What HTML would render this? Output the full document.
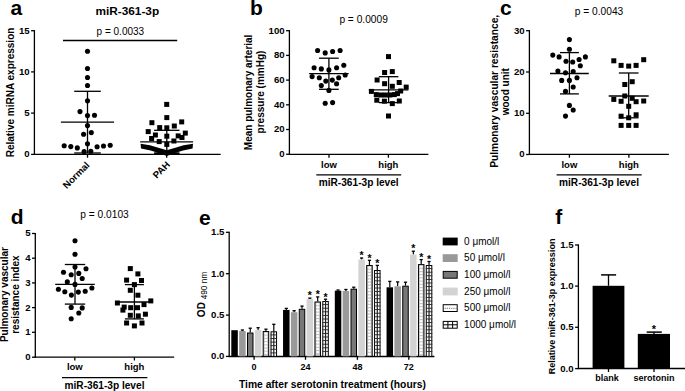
<!DOCTYPE html>
<html><head><meta charset="utf-8"><style>
html,body{margin:0;padding:0;background:#fff;width:685px;height:391px;overflow:hidden}
svg{display:block}
text{font-family:"Liberation Sans",sans-serif}
</style></head><body>
<svg width="685" height="391" viewBox="0 0 685 391">
<defs>
<pattern id="dots" width="3" height="3" patternUnits="userSpaceOnUse">
<rect width="3" height="3" fill="#fff"/><rect x="1" y="1" width="1" height="1" fill="#555"/></pattern>
<pattern id="grid" width="3" height="3.6" patternUnits="userSpaceOnUse">
<rect width="3" height="3.6" fill="#fff"/><rect x="0" y="0" width="3" height="1" fill="#222"/><rect x="0" y="0" width="1" height="3.6" fill="#222"/></pattern>
</defs>
<rect width="685" height="391" fill="#fff"/>
<text x="10.60" y="14.70" font-size="21" font-weight="bold" text-anchor="start" fill="#000">a</text>
<text x="250.10" y="14.70" font-size="21" font-weight="bold" text-anchor="start" fill="#000">b</text>
<text x="500.10" y="15.10" font-size="21" font-weight="bold" text-anchor="start" fill="#000">c</text>
<text x="10.80" y="224.30" font-size="21" font-weight="bold" text-anchor="start" fill="#000">d</text>
<text x="199.00" y="224.70" font-size="21" font-weight="bold" text-anchor="start" fill="#000">e</text>
<text x="555.20" y="224.20" font-size="21" font-weight="bold" text-anchor="start" fill="#000">f</text>
<text x="127.30" y="14.70" font-size="11.8" font-weight="bold" text-anchor="middle" fill="#000">miR-361-3p</text>
<text x="96.60" y="35.10" font-size="10.0" font-weight="normal" text-anchor="start" fill="#000">p = 0.0033</text>
<line x1="63.00" y1="40.50" x2="177.20" y2="40.50" stroke="#000" stroke-width="1.3"/>
<line x1="34.40" y1="30.10" x2="34.40" y2="155.00" stroke="#000" stroke-width="1.3"/>
<line x1="31.10" y1="30.70" x2="34.40" y2="30.70" stroke="#000" stroke-width="1.3"/>
<text x="29.60" y="33.60" font-size="9.6" font-weight="bold" text-anchor="end" fill="#000">15</text>
<line x1="31.10" y1="71.90" x2="34.40" y2="71.90" stroke="#000" stroke-width="1.3"/>
<text x="29.60" y="74.80" font-size="9.6" font-weight="bold" text-anchor="end" fill="#000">10</text>
<line x1="31.10" y1="113.10" x2="34.40" y2="113.10" stroke="#000" stroke-width="1.3"/>
<text x="29.60" y="116.00" font-size="9.6" font-weight="bold" text-anchor="end" fill="#000">5</text>
<line x1="31.10" y1="154.40" x2="34.40" y2="154.40" stroke="#000" stroke-width="1.3"/>
<text x="29.60" y="157.30" font-size="9.6" font-weight="bold" text-anchor="end" fill="#000">0</text>
<line x1="33.80" y1="154.40" x2="220.70" y2="154.40" stroke="#000" stroke-width="1.3"/>
<line x1="87.50" y1="154.40" x2="87.50" y2="157.70" stroke="#000" stroke-width="1.3"/>
<line x1="166.70" y1="154.40" x2="166.70" y2="157.70" stroke="#000" stroke-width="1.3"/>
<text x="13.80" y="92.50" font-size="10" font-weight="bold" text-anchor="middle" fill="#000" transform="rotate(-90 13.80 92.50)">Relative miRNA expression</text>
<text x="90.20" y="165.80" font-size="9.6" font-weight="bold" text-anchor="end" fill="#000" transform="rotate(-45 90.20 165.80)">Normal</text>
<text x="170.60" y="165.30" font-size="9.6" font-weight="bold" text-anchor="end" fill="#000" transform="rotate(-45 170.60 165.30)">PAH</text>
<circle cx="87.50" cy="51.20" r="2.55"/>
<circle cx="87.50" cy="68.50" r="2.55"/>
<circle cx="87.50" cy="77.50" r="2.55"/>
<circle cx="87.50" cy="85.50" r="2.55"/>
<circle cx="87.50" cy="100.70" r="2.55"/>
<circle cx="80.00" cy="111.60" r="2.55"/>
<circle cx="87.50" cy="115.60" r="2.55"/>
<circle cx="94.50" cy="115.20" r="2.55"/>
<circle cx="87.50" cy="125.60" r="2.55"/>
<circle cx="83.60" cy="134.30" r="2.55"/>
<circle cx="91.30" cy="132.60" r="2.55"/>
<circle cx="87.50" cy="143.80" r="2.55"/>
<circle cx="64.20" cy="145.80" r="2.55"/>
<circle cx="70.80" cy="146.60" r="2.55"/>
<circle cx="77.30" cy="147.90" r="2.55"/>
<circle cx="97.10" cy="146.70" r="2.55"/>
<circle cx="103.50" cy="146.00" r="2.55"/>
<circle cx="110.20" cy="145.30" r="2.55"/>
<circle cx="84.10" cy="151.50" r="2.55"/>
<circle cx="90.80" cy="151.30" r="2.55"/>
<line x1="60.90" y1="122.20" x2="114.10" y2="122.20" stroke="#000" stroke-width="1.3"/>
<line x1="74.20" y1="91.30" x2="100.80" y2="91.30" stroke="#000" stroke-width="1.3"/>
<line x1="74.20" y1="153.00" x2="100.80" y2="153.00" stroke="#000" stroke-width="1.3"/>
<line x1="87.50" y1="91.30" x2="87.50" y2="153.00" stroke="#000" stroke-width="1.3"/>
<line x1="140.20" y1="141.90" x2="193.10" y2="141.90" stroke="#000" stroke-width="1.3"/>
<line x1="154.10" y1="130.30" x2="179.50" y2="130.30" stroke="#000" stroke-width="1.3"/>
<line x1="154.10" y1="153.20" x2="179.50" y2="153.20" stroke="#000" stroke-width="1.8"/>
<line x1="166.80" y1="130.30" x2="166.80" y2="153.00" stroke="#000" stroke-width="1.3"/>
<rect x="164.20" y="101.90" width="5.0" height="5.0"/>
<rect x="164.30" y="115.10" width="5.0" height="5.0"/>
<rect x="149.40" y="120.20" width="5.0" height="5.0"/>
<rect x="179.20" y="119.40" width="5.0" height="5.0"/>
<rect x="157.20" y="125.10" width="5.0" height="5.0"/>
<rect x="164.30" y="125.30" width="5.0" height="5.0"/>
<rect x="171.80" y="123.50" width="5.0" height="5.0"/>
<rect x="145.70" y="129.10" width="5.0" height="5.0"/>
<rect x="152.90" y="132.50" width="5.0" height="5.0"/>
<rect x="164.30" y="133.70" width="5.0" height="5.0"/>
<rect x="175.70" y="133.40" width="5.0" height="5.0"/>
<rect x="182.80" y="130.60" width="5.0" height="5.0"/>
<rect x="179.50" y="135.00" width="5.0" height="5.0"/>
<rect x="149.10" y="136.00" width="5.0" height="5.0"/>
<rect x="156.70" y="139.10" width="5.0" height="5.0"/>
<rect x="171.40" y="138.50" width="5.0" height="5.0"/>
<rect x="164.30" y="141.90" width="5.0" height="5.0"/>
<path d="M140.6,143.7 L150,145.3 L160,148.3 L166.8,150.3 L173.6,148.3 L183.6,145.3 L193,143.7 L192.6,148.4 L183,150.6 L173.5,153.4 L166.8,156 L160.1,153.4 L150.6,150.6 L141,148.4 Z"/>
<text x="363.60" y="22.80" font-size="10.2" font-weight="normal" text-anchor="middle" fill="#000">p = 0.0009</text>
<line x1="289.40" y1="30.10" x2="289.40" y2="154.90" stroke="#000" stroke-width="1.3"/>
<line x1="286.10" y1="30.70" x2="289.40" y2="30.70" stroke="#000" stroke-width="1.3"/>
<text x="284.60" y="33.60" font-size="9.6" font-weight="bold" text-anchor="end" fill="#000">100</text>
<line x1="286.10" y1="55.40" x2="289.40" y2="55.40" stroke="#000" stroke-width="1.3"/>
<text x="284.60" y="58.30" font-size="9.6" font-weight="bold" text-anchor="end" fill="#000">80</text>
<line x1="286.10" y1="80.10" x2="289.40" y2="80.10" stroke="#000" stroke-width="1.3"/>
<text x="284.60" y="83.00" font-size="9.6" font-weight="bold" text-anchor="end" fill="#000">60</text>
<line x1="286.10" y1="104.80" x2="289.40" y2="104.80" stroke="#000" stroke-width="1.3"/>
<text x="284.60" y="107.70" font-size="9.6" font-weight="bold" text-anchor="end" fill="#000">40</text>
<line x1="286.10" y1="129.50" x2="289.40" y2="129.50" stroke="#000" stroke-width="1.3"/>
<text x="284.60" y="132.40" font-size="9.6" font-weight="bold" text-anchor="end" fill="#000">20</text>
<line x1="286.10" y1="154.30" x2="289.40" y2="154.30" stroke="#000" stroke-width="1.3"/>
<text x="284.60" y="157.20" font-size="9.6" font-weight="bold" text-anchor="end" fill="#000">0</text>
<line x1="288.80" y1="154.40" x2="428.40" y2="154.40" stroke="#000" stroke-width="1.3"/>
<line x1="329.00" y1="154.40" x2="329.00" y2="157.70" stroke="#000" stroke-width="1.3"/>
<line x1="388.40" y1="154.40" x2="388.40" y2="157.70" stroke="#000" stroke-width="1.3"/>
<text x="329.00" y="167.90" font-size="9.5" font-weight="bold" text-anchor="middle" fill="#000">low</text>
<text x="388.40" y="167.90" font-size="9.5" font-weight="bold" text-anchor="middle" fill="#000">high</text>
<line x1="316.30" y1="174.80" x2="401.20" y2="174.80" stroke="#000" stroke-width="1.3"/>
<text x="358.70" y="185.60" font-size="10.15" font-weight="bold" text-anchor="middle" fill="#000">miR-361-3p level</text>
<text x="252.30" y="92.40" font-size="10" font-weight="bold" text-anchor="middle" fill="#000" transform="rotate(-90 252.30 92.40)">Mean pulmonary arterial</text>
<text x="263.80" y="92.00" font-size="10" font-weight="bold" text-anchor="middle" fill="#000" transform="rotate(-90 263.80 92.00)">pressure (mmHg)</text>
<circle cx="317.60" cy="50.50" r="2.55"/>
<circle cx="325.20" cy="52.90" r="2.55"/>
<circle cx="332.60" cy="51.50" r="2.55"/>
<circle cx="340.10" cy="50.50" r="2.55"/>
<circle cx="314.10" cy="67.80" r="2.55"/>
<circle cx="321.30" cy="68.90" r="2.55"/>
<circle cx="328.90" cy="69.90" r="2.55"/>
<circle cx="336.60" cy="67.80" r="2.55"/>
<circle cx="343.80" cy="65.20" r="2.55"/>
<circle cx="312.10" cy="76.60" r="2.55"/>
<circle cx="319.30" cy="77.70" r="2.55"/>
<circle cx="345.20" cy="75.00" r="2.55"/>
<circle cx="338.70" cy="77.70" r="2.55"/>
<circle cx="325.80" cy="81.10" r="2.55"/>
<circle cx="332.30" cy="80.10" r="2.55"/>
<circle cx="321.30" cy="85.60" r="2.55"/>
<circle cx="336.60" cy="83.80" r="2.55"/>
<circle cx="328.90" cy="90.40" r="2.55"/>
<circle cx="325.20" cy="103.20" r="2.55"/>
<circle cx="332.60" cy="102.60" r="2.55"/>
<line x1="309.15" y1="73.60" x2="348.65" y2="73.60" stroke="#000" stroke-width="1.3"/>
<line x1="319.05" y1="58.20" x2="338.75" y2="58.20" stroke="#000" stroke-width="1.3"/>
<line x1="319.05" y1="89.30" x2="338.75" y2="89.30" stroke="#000" stroke-width="1.3"/>
<line x1="328.90" y1="58.20" x2="328.90" y2="89.30" stroke="#000" stroke-width="1.3"/>
<line x1="368.85" y1="89.80" x2="408.35" y2="89.80" stroke="#000" stroke-width="1.3"/>
<line x1="378.80" y1="76.70" x2="398.40" y2="76.70" stroke="#000" stroke-width="1.3"/>
<line x1="378.80" y1="102.60" x2="398.40" y2="102.60" stroke="#000" stroke-width="1.3"/>
<line x1="388.60" y1="76.70" x2="388.60" y2="102.60" stroke="#000" stroke-width="1.3"/>
<rect x="386.00" y="54.10" width="5.0" height="5.0"/>
<rect x="382.10" y="70.00" width="5.0" height="5.0"/>
<rect x="389.80" y="69.10" width="5.0" height="5.0"/>
<rect x="374.60" y="77.50" width="5.0" height="5.0"/>
<rect x="382.10" y="81.20" width="5.0" height="5.0"/>
<rect x="396.70" y="80.00" width="5.0" height="5.0"/>
<rect x="389.80" y="83.80" width="5.0" height="5.0"/>
<rect x="403.70" y="84.60" width="5.0" height="5.0"/>
<rect x="368.90" y="88.90" width="5.0" height="5.0"/>
<rect x="373.80" y="92.10" width="5.0" height="5.0"/>
<rect x="378.30" y="92.50" width="5.0" height="5.0"/>
<rect x="382.80" y="92.50" width="5.0" height="5.0"/>
<rect x="387.30" y="92.50" width="5.0" height="5.0"/>
<rect x="391.80" y="92.10" width="5.0" height="5.0"/>
<rect x="395.00" y="91.10" width="5.0" height="5.0"/>
<rect x="398.20" y="88.50" width="5.0" height="5.0"/>
<rect x="374.30" y="97.70" width="5.0" height="5.0"/>
<rect x="381.90" y="98.70" width="5.0" height="5.0"/>
<rect x="389.80" y="101.10" width="5.0" height="5.0"/>
<rect x="396.80" y="98.50" width="5.0" height="5.0"/>
<rect x="386.00" y="113.50" width="5.0" height="5.0"/>
<text x="599.00" y="14.80" font-size="10.2" font-weight="normal" text-anchor="middle" fill="#000">p = 0.0043</text>
<line x1="529.40" y1="30.10" x2="529.40" y2="155.00" stroke="#000" stroke-width="1.3"/>
<line x1="526.10" y1="30.70" x2="529.40" y2="30.70" stroke="#000" stroke-width="1.3"/>
<text x="524.60" y="33.60" font-size="9.6" font-weight="bold" text-anchor="end" fill="#000">30</text>
<line x1="526.10" y1="72.00" x2="529.40" y2="72.00" stroke="#000" stroke-width="1.3"/>
<text x="524.60" y="74.90" font-size="9.6" font-weight="bold" text-anchor="end" fill="#000">20</text>
<line x1="526.10" y1="113.30" x2="529.40" y2="113.30" stroke="#000" stroke-width="1.3"/>
<text x="524.60" y="116.20" font-size="9.6" font-weight="bold" text-anchor="end" fill="#000">10</text>
<line x1="526.10" y1="154.50" x2="529.40" y2="154.50" stroke="#000" stroke-width="1.3"/>
<text x="524.60" y="157.40" font-size="9.6" font-weight="bold" text-anchor="end" fill="#000">0</text>
<line x1="528.80" y1="154.40" x2="668.90" y2="154.40" stroke="#000" stroke-width="1.3"/>
<line x1="569.40" y1="154.40" x2="569.40" y2="157.70" stroke="#000" stroke-width="1.3"/>
<line x1="628.90" y1="154.40" x2="628.90" y2="157.70" stroke="#000" stroke-width="1.3"/>
<text x="569.40" y="167.70" font-size="9.5" font-weight="bold" text-anchor="middle" fill="#000">low</text>
<text x="628.90" y="167.70" font-size="9.5" font-weight="bold" text-anchor="middle" fill="#000">high</text>
<line x1="556.60" y1="174.90" x2="641.70" y2="174.90" stroke="#000" stroke-width="1.3"/>
<text x="599.00" y="185.80" font-size="10.15" font-weight="bold" text-anchor="middle" fill="#000">miR-361-3p level</text>
<text x="497.60" y="91.30" font-size="10.2" font-weight="bold" text-anchor="middle" fill="#000" transform="rotate(-90 497.60 91.30)">Pulmonary vascular resistance,</text>
<text x="508.80" y="91.70" font-size="10" font-weight="bold" text-anchor="middle" fill="#000" transform="rotate(-90 508.80 91.70)">wood unit</text>
<circle cx="569.40" cy="39.60" r="2.55"/>
<circle cx="569.40" cy="49.30" r="2.55"/>
<circle cx="552.80" cy="55.10" r="2.55"/>
<circle cx="559.10" cy="56.90" r="2.55"/>
<circle cx="566.00" cy="61.30" r="2.55"/>
<circle cx="572.70" cy="62.00" r="2.55"/>
<circle cx="579.10" cy="59.50" r="2.55"/>
<circle cx="585.40" cy="56.90" r="2.55"/>
<circle cx="580.30" cy="65.80" r="2.55"/>
<circle cx="557.90" cy="71.00" r="2.55"/>
<circle cx="565.50" cy="72.70" r="2.55"/>
<circle cx="573.20" cy="71.50" r="2.55"/>
<circle cx="561.70" cy="80.40" r="2.55"/>
<circle cx="569.40" cy="80.40" r="2.55"/>
<circle cx="577.00" cy="77.80" r="2.55"/>
<circle cx="573.20" cy="87.00" r="2.55"/>
<circle cx="565.50" cy="91.40" r="2.55"/>
<circle cx="569.40" cy="105.40" r="2.55"/>
<circle cx="573.20" cy="110.00" r="2.55"/>
<circle cx="565.50" cy="116.10" r="2.55"/>
<line x1="550.00" y1="73.50" x2="588.80" y2="73.50" stroke="#000" stroke-width="1.3"/>
<line x1="559.95" y1="52.60" x2="578.85" y2="52.60" stroke="#000" stroke-width="1.3"/>
<line x1="559.95" y1="93.90" x2="578.85" y2="93.90" stroke="#000" stroke-width="1.3"/>
<line x1="569.40" y1="52.60" x2="569.40" y2="93.90" stroke="#000" stroke-width="1.3"/>
<line x1="608.70" y1="96.00" x2="648.70" y2="96.00" stroke="#000" stroke-width="1.3"/>
<line x1="618.85" y1="73.00" x2="638.55" y2="73.00" stroke="#000" stroke-width="1.3"/>
<line x1="618.85" y1="117.80" x2="638.55" y2="117.80" stroke="#000" stroke-width="1.3"/>
<line x1="628.70" y1="73.00" x2="628.70" y2="117.80" stroke="#000" stroke-width="1.3"/>
<rect x="611.30" y="58.30" width="5.0" height="5.0"/>
<rect x="618.60" y="62.90" width="5.0" height="5.0"/>
<rect x="626.20" y="63.60" width="5.0" height="5.0"/>
<rect x="633.60" y="62.90" width="5.0" height="5.0"/>
<rect x="641.20" y="57.20" width="5.0" height="5.0"/>
<rect x="622.30" y="82.00" width="5.0" height="5.0"/>
<rect x="629.70" y="79.20" width="5.0" height="5.0"/>
<rect x="622.30" y="93.50" width="5.0" height="5.0"/>
<rect x="629.70" y="95.80" width="5.0" height="5.0"/>
<rect x="611.30" y="96.90" width="5.0" height="5.0"/>
<rect x="618.60" y="98.80" width="5.0" height="5.0"/>
<rect x="633.60" y="99.20" width="5.0" height="5.0"/>
<rect x="641.20" y="98.50" width="5.0" height="5.0"/>
<rect x="626.20" y="103.80" width="5.0" height="5.0"/>
<rect x="618.60" y="113.70" width="5.0" height="5.0"/>
<rect x="626.20" y="115.30" width="5.0" height="5.0"/>
<rect x="633.60" y="112.30" width="5.0" height="5.0"/>
<rect x="618.60" y="122.90" width="5.0" height="5.0"/>
<rect x="626.20" y="122.90" width="5.0" height="5.0"/>
<rect x="633.60" y="122.90" width="5.0" height="5.0"/>
<text x="104.50" y="217.50" font-size="10.2" font-weight="normal" text-anchor="middle" fill="#000">p = 0.0103</text>
<line x1="35.30" y1="232.90" x2="35.30" y2="357.80" stroke="#000" stroke-width="1.3"/>
<line x1="32.00" y1="233.50" x2="35.30" y2="233.50" stroke="#000" stroke-width="1.3"/>
<text x="30.50" y="236.40" font-size="9.6" font-weight="bold" text-anchor="end" fill="#000">5</text>
<line x1="32.00" y1="258.20" x2="35.30" y2="258.20" stroke="#000" stroke-width="1.3"/>
<text x="30.50" y="261.10" font-size="9.6" font-weight="bold" text-anchor="end" fill="#000">4</text>
<line x1="32.00" y1="282.90" x2="35.30" y2="282.90" stroke="#000" stroke-width="1.3"/>
<text x="30.50" y="285.80" font-size="9.6" font-weight="bold" text-anchor="end" fill="#000">3</text>
<line x1="32.00" y1="307.60" x2="35.30" y2="307.60" stroke="#000" stroke-width="1.3"/>
<text x="30.50" y="310.50" font-size="9.6" font-weight="bold" text-anchor="end" fill="#000">2</text>
<line x1="32.00" y1="332.30" x2="35.30" y2="332.30" stroke="#000" stroke-width="1.3"/>
<text x="30.50" y="335.20" font-size="9.6" font-weight="bold" text-anchor="end" fill="#000">1</text>
<line x1="32.00" y1="357.20" x2="35.30" y2="357.20" stroke="#000" stroke-width="1.3"/>
<text x="30.50" y="360.10" font-size="9.6" font-weight="bold" text-anchor="end" fill="#000">0</text>
<line x1="34.70" y1="357.20" x2="174.20" y2="357.20" stroke="#000" stroke-width="1.3"/>
<line x1="74.80" y1="357.20" x2="74.80" y2="360.50" stroke="#000" stroke-width="1.3"/>
<line x1="134.40" y1="357.20" x2="134.40" y2="360.50" stroke="#000" stroke-width="1.3"/>
<text x="74.80" y="370.20" font-size="9.5" font-weight="bold" text-anchor="middle" fill="#000">low</text>
<text x="134.40" y="370.20" font-size="9.5" font-weight="bold" text-anchor="middle" fill="#000">high</text>
<line x1="62.00" y1="377.60" x2="147.40" y2="377.60" stroke="#000" stroke-width="1.3"/>
<text x="104.50" y="388.60" font-size="10.15" font-weight="bold" text-anchor="middle" fill="#000">miR-361-3p level</text>
<text x="7.80" y="294.60" font-size="10" font-weight="bold" text-anchor="middle" fill="#000" transform="rotate(-90 7.80 294.60)">Pulmonary vascular</text>
<text x="19.40" y="294.60" font-size="10" font-weight="bold" text-anchor="middle" fill="#000" transform="rotate(-90 19.40 294.60)">resistance index</text>
<circle cx="75.00" cy="240.70" r="2.55"/>
<circle cx="75.00" cy="254.30" r="2.55"/>
<circle cx="75.00" cy="267.00" r="2.55"/>
<circle cx="86.00" cy="268.80" r="2.55"/>
<circle cx="63.50" cy="272.20" r="2.55"/>
<circle cx="71.20" cy="274.70" r="2.55"/>
<circle cx="78.80" cy="273.40" r="2.55"/>
<circle cx="82.20" cy="278.50" r="2.55"/>
<circle cx="67.30" cy="281.90" r="2.55"/>
<circle cx="75.00" cy="284.40" r="2.55"/>
<circle cx="58.40" cy="289.30" r="2.55"/>
<circle cx="64.80" cy="291.80" r="2.55"/>
<circle cx="71.40" cy="295.10" r="2.55"/>
<circle cx="78.30" cy="292.10" r="2.55"/>
<circle cx="85.20" cy="291.30" r="2.55"/>
<circle cx="91.90" cy="288.00" r="2.55"/>
<circle cx="71.20" cy="307.40" r="2.55"/>
<circle cx="82.20" cy="307.90" r="2.55"/>
<circle cx="78.80" cy="313.00" r="2.55"/>
<circle cx="71.20" cy="318.70" r="2.55"/>
<line x1="55.20" y1="284.40" x2="94.80" y2="284.40" stroke="#000" stroke-width="1.3"/>
<line x1="64.80" y1="264.50" x2="85.20" y2="264.50" stroke="#000" stroke-width="1.3"/>
<line x1="64.80" y1="304.10" x2="85.20" y2="304.10" stroke="#000" stroke-width="1.3"/>
<line x1="75.00" y1="264.50" x2="75.00" y2="304.10" stroke="#000" stroke-width="1.3"/>
<line x1="115.80" y1="302.00" x2="153.00" y2="302.00" stroke="#000" stroke-width="1.3"/>
<line x1="124.90" y1="284.60" x2="143.90" y2="284.60" stroke="#000" stroke-width="1.3"/>
<line x1="124.90" y1="318.90" x2="143.90" y2="318.90" stroke="#000" stroke-width="1.3"/>
<line x1="134.40" y1="284.60" x2="134.40" y2="318.90" stroke="#000" stroke-width="1.3"/>
<rect x="127.80" y="266.10" width="5.0" height="5.0"/>
<rect x="135.40" y="271.40" width="5.0" height="5.0"/>
<rect x="124.10" y="277.60" width="5.0" height="5.0"/>
<rect x="139.00" y="278.00" width="5.0" height="5.0"/>
<rect x="131.90" y="282.10" width="5.0" height="5.0"/>
<rect x="127.80" y="287.80" width="5.0" height="5.0"/>
<rect x="135.40" y="292.70" width="5.0" height="5.0"/>
<rect x="114.90" y="300.50" width="5.0" height="5.0"/>
<rect x="148.30" y="298.40" width="5.0" height="5.0"/>
<rect x="141.50" y="302.10" width="5.0" height="5.0"/>
<rect x="121.70" y="304.60" width="5.0" height="5.0"/>
<rect x="120.40" y="307.60" width="5.0" height="5.0"/>
<rect x="128.20" y="305.20" width="5.0" height="5.0"/>
<rect x="135.00" y="305.20" width="5.0" height="5.0"/>
<rect x="127.80" y="312.80" width="5.0" height="5.0"/>
<rect x="135.80" y="313.40" width="5.0" height="5.0"/>
<rect x="142.90" y="311.70" width="5.0" height="5.0"/>
<rect x="124.10" y="320.50" width="5.0" height="5.0"/>
<rect x="131.90" y="323.40" width="5.0" height="5.0"/>
<rect x="139.50" y="320.50" width="5.0" height="5.0"/>
<line x1="229.20" y1="231.70" x2="229.20" y2="357.10" stroke="#000" stroke-width="1.3"/>
<line x1="225.90" y1="232.30" x2="229.20" y2="232.30" stroke="#000" stroke-width="1.3"/>
<text x="224.40" y="235.20" font-size="9.6" font-weight="bold" text-anchor="end" fill="#000">1.5</text>
<line x1="225.90" y1="273.70" x2="229.20" y2="273.70" stroke="#000" stroke-width="1.3"/>
<text x="224.40" y="276.60" font-size="9.6" font-weight="bold" text-anchor="end" fill="#000">1.0</text>
<line x1="225.90" y1="315.10" x2="229.20" y2="315.10" stroke="#000" stroke-width="1.3"/>
<text x="224.40" y="318.00" font-size="9.6" font-weight="bold" text-anchor="end" fill="#000">0.5</text>
<line x1="225.90" y1="356.40" x2="229.20" y2="356.40" stroke="#000" stroke-width="1.3"/>
<text x="224.40" y="359.30" font-size="9.6" font-weight="bold" text-anchor="end" fill="#000">0.0</text>
<line x1="228.60" y1="356.50" x2="434.40" y2="356.50" stroke="#000" stroke-width="1.3"/>
<line x1="254.10" y1="356.50" x2="254.10" y2="359.80" stroke="#000" stroke-width="1.3"/>
<line x1="305.50" y1="356.50" x2="305.50" y2="359.80" stroke="#000" stroke-width="1.3"/>
<line x1="357.40" y1="356.50" x2="357.40" y2="359.80" stroke="#000" stroke-width="1.3"/>
<line x1="408.80" y1="356.50" x2="408.80" y2="359.80" stroke="#000" stroke-width="1.3"/>
<text x="254.10" y="369.60" font-size="9" font-weight="bold" text-anchor="middle" fill="#000">0</text>
<text x="305.50" y="369.60" font-size="9" font-weight="bold" text-anchor="middle" fill="#000">24</text>
<text x="357.40" y="369.60" font-size="9" font-weight="bold" text-anchor="middle" fill="#000">48</text>
<text x="408.80" y="369.60" font-size="9" font-weight="bold" text-anchor="middle" fill="#000">72</text>
<text x="332.40" y="387.70" font-size="10.3" font-weight="bold" text-anchor="middle" fill="#000">Time after serotonin treatment (hours)</text>
<text x="205.3" y="294.4" font-size="10" font-weight="bold" text-anchor="middle" transform="rotate(-90 205.3 294.4)">OD <tspan font-size="8.3" font-weight="normal" dy="1.5">490 nm</tspan></text>
<rect x="231.30" y="330.20" width="6.50" height="26.20" fill="#000"/>
<line x1="242.40" y1="331.00" x2="242.40" y2="330.00" stroke="#000" stroke-width="1.2"/>
<line x1="240.80" y1="330.00" x2="244.00" y2="330.00" stroke="#000" stroke-width="1.3"/>
<rect x="239.15" y="331.00" width="6.50" height="25.40" fill="#999"/>
<line x1="250.25" y1="332.50" x2="250.25" y2="328.20" stroke="#000" stroke-width="1.2"/>
<line x1="248.65" y1="328.20" x2="251.85" y2="328.20" stroke="#000" stroke-width="1.3"/>
<rect x="247.50" y="333.00" width="5.50" height="23.40" fill="#777" stroke="#000" stroke-width="1"/>
<line x1="258.10" y1="329.90" x2="258.10" y2="327.70" stroke="#000" stroke-width="1.2"/>
<line x1="256.50" y1="327.70" x2="259.70" y2="327.70" stroke="#000" stroke-width="1.3"/>
<rect x="254.85" y="329.90" width="6.50" height="26.50" fill="#d3d3d3"/>
<line x1="265.95" y1="331.00" x2="265.95" y2="329.20" stroke="#000" stroke-width="1.2"/>
<line x1="264.35" y1="329.20" x2="267.55" y2="329.20" stroke="#000" stroke-width="1.3"/>
<rect x="263.20" y="331.50" width="5.50" height="24.90" fill="#c4c4c4" stroke="#000" stroke-width="1"/>
<ellipse cx="265.95" cy="333.60" rx="1.5" ry="1.2" fill="#fff"/>
<ellipse cx="265.95" cy="336.80" rx="1.5" ry="1.2" fill="#fff"/>
<ellipse cx="265.95" cy="340.00" rx="1.5" ry="1.2" fill="#fff"/>
<ellipse cx="265.95" cy="343.20" rx="1.5" ry="1.2" fill="#fff"/>
<ellipse cx="265.95" cy="346.40" rx="1.5" ry="1.2" fill="#fff"/>
<ellipse cx="265.95" cy="349.60" rx="1.5" ry="1.2" fill="#fff"/>
<ellipse cx="265.95" cy="352.80" rx="1.5" ry="1.2" fill="#fff"/>
<line x1="273.80" y1="331.30" x2="273.80" y2="324.30" stroke="#000" stroke-width="1.2"/>
<line x1="272.20" y1="324.30" x2="275.40" y2="324.30" stroke="#000" stroke-width="1.3"/>
<rect x="271.05" y="331.80" width="5.50" height="24.60" fill="#fff" stroke="#000" stroke-width="1"/>
<rect x="273.20" y="331.30" width="1.2" height="25.10" fill="#222"/>
<rect x="270.55" y="334.45" width="6.50" height="0.9" fill="#222"/>
<rect x="270.55" y="338.05" width="6.50" height="0.9" fill="#222"/>
<rect x="270.55" y="341.65" width="6.50" height="0.9" fill="#222"/>
<rect x="270.55" y="345.25" width="6.50" height="0.9" fill="#222"/>
<rect x="270.55" y="348.85" width="6.50" height="0.9" fill="#222"/>
<rect x="270.55" y="352.45" width="6.50" height="0.9" fill="#222"/>
<line x1="286.30" y1="309.90" x2="286.30" y2="308.40" stroke="#000" stroke-width="1.2"/>
<line x1="284.70" y1="308.40" x2="287.90" y2="308.40" stroke="#000" stroke-width="1.3"/>
<rect x="283.05" y="309.90" width="6.50" height="46.50" fill="#000"/>
<line x1="294.15" y1="312.20" x2="294.15" y2="310.70" stroke="#000" stroke-width="1.2"/>
<line x1="292.55" y1="310.70" x2="295.75" y2="310.70" stroke="#000" stroke-width="1.3"/>
<rect x="290.90" y="312.20" width="6.50" height="44.20" fill="#999"/>
<line x1="302.00" y1="308.80" x2="302.00" y2="306.10" stroke="#000" stroke-width="1.2"/>
<line x1="300.40" y1="306.10" x2="303.60" y2="306.10" stroke="#000" stroke-width="1.3"/>
<rect x="299.25" y="309.30" width="5.50" height="47.10" fill="#777" stroke="#000" stroke-width="1"/>
<line x1="309.85" y1="299.20" x2="309.85" y2="298.10" stroke="#000" stroke-width="1.2"/>
<line x1="308.25" y1="298.10" x2="311.45" y2="298.10" stroke="#000" stroke-width="1.3"/>
<rect x="306.60" y="299.20" width="6.50" height="57.20" fill="#d3d3d3"/>
<text x="309.85" y="298.90" font-size="10.5" font-weight="bold" text-anchor="middle" fill="#000">*</text>
<line x1="317.70" y1="301.50" x2="317.70" y2="296.90" stroke="#000" stroke-width="1.2"/>
<line x1="316.10" y1="296.90" x2="319.30" y2="296.90" stroke="#000" stroke-width="1.3"/>
<rect x="314.95" y="302.00" width="5.50" height="54.40" fill="#c4c4c4" stroke="#000" stroke-width="1"/>
<ellipse cx="317.70" cy="304.10" rx="1.5" ry="1.2" fill="#fff"/>
<ellipse cx="317.70" cy="307.30" rx="1.5" ry="1.2" fill="#fff"/>
<ellipse cx="317.70" cy="310.50" rx="1.5" ry="1.2" fill="#fff"/>
<ellipse cx="317.70" cy="313.70" rx="1.5" ry="1.2" fill="#fff"/>
<ellipse cx="317.70" cy="316.90" rx="1.5" ry="1.2" fill="#fff"/>
<ellipse cx="317.70" cy="320.10" rx="1.5" ry="1.2" fill="#fff"/>
<ellipse cx="317.70" cy="323.30" rx="1.5" ry="1.2" fill="#fff"/>
<ellipse cx="317.70" cy="326.50" rx="1.5" ry="1.2" fill="#fff"/>
<ellipse cx="317.70" cy="329.70" rx="1.5" ry="1.2" fill="#fff"/>
<ellipse cx="317.70" cy="332.90" rx="1.5" ry="1.2" fill="#fff"/>
<ellipse cx="317.70" cy="336.10" rx="1.5" ry="1.2" fill="#fff"/>
<ellipse cx="317.70" cy="339.30" rx="1.5" ry="1.2" fill="#fff"/>
<ellipse cx="317.70" cy="342.50" rx="1.5" ry="1.2" fill="#fff"/>
<ellipse cx="317.70" cy="345.70" rx="1.5" ry="1.2" fill="#fff"/>
<ellipse cx="317.70" cy="348.90" rx="1.5" ry="1.2" fill="#fff"/>
<ellipse cx="317.70" cy="352.10" rx="1.5" ry="1.2" fill="#fff"/>
<text x="317.70" y="298.20" font-size="10.5" font-weight="bold" text-anchor="middle" fill="#000">*</text>
<line x1="325.55" y1="301.00" x2="325.55" y2="299.20" stroke="#000" stroke-width="1.2"/>
<line x1="323.95" y1="299.20" x2="327.15" y2="299.20" stroke="#000" stroke-width="1.3"/>
<rect x="322.80" y="301.50" width="5.50" height="54.90" fill="#fff" stroke="#000" stroke-width="1"/>
<rect x="324.95" y="301.00" width="1.2" height="55.40" fill="#222"/>
<rect x="322.30" y="304.15" width="6.50" height="0.9" fill="#222"/>
<rect x="322.30" y="307.75" width="6.50" height="0.9" fill="#222"/>
<rect x="322.30" y="311.35" width="6.50" height="0.9" fill="#222"/>
<rect x="322.30" y="314.95" width="6.50" height="0.9" fill="#222"/>
<rect x="322.30" y="318.55" width="6.50" height="0.9" fill="#222"/>
<rect x="322.30" y="322.15" width="6.50" height="0.9" fill="#222"/>
<rect x="322.30" y="325.75" width="6.50" height="0.9" fill="#222"/>
<rect x="322.30" y="329.35" width="6.50" height="0.9" fill="#222"/>
<rect x="322.30" y="332.95" width="6.50" height="0.9" fill="#222"/>
<rect x="322.30" y="336.55" width="6.50" height="0.9" fill="#222"/>
<rect x="322.30" y="340.15" width="6.50" height="0.9" fill="#222"/>
<rect x="322.30" y="343.75" width="6.50" height="0.9" fill="#222"/>
<rect x="322.30" y="347.35" width="6.50" height="0.9" fill="#222"/>
<rect x="322.30" y="350.95" width="6.50" height="0.9" fill="#222"/>
<text x="325.55" y="300.90" font-size="10.5" font-weight="bold" text-anchor="middle" fill="#000">*</text>
<line x1="338.05" y1="290.70" x2="338.05" y2="290.00" stroke="#000" stroke-width="1.2"/>
<line x1="336.45" y1="290.00" x2="339.65" y2="290.00" stroke="#000" stroke-width="1.3"/>
<rect x="334.80" y="290.70" width="6.50" height="65.70" fill="#000"/>
<line x1="345.90" y1="291.00" x2="345.90" y2="289.50" stroke="#000" stroke-width="1.2"/>
<line x1="344.30" y1="289.50" x2="347.50" y2="289.50" stroke="#000" stroke-width="1.3"/>
<rect x="342.65" y="291.00" width="6.50" height="65.40" fill="#999"/>
<line x1="353.75" y1="288.70" x2="353.75" y2="287.20" stroke="#000" stroke-width="1.2"/>
<line x1="352.15" y1="287.20" x2="355.35" y2="287.20" stroke="#000" stroke-width="1.3"/>
<rect x="351.00" y="289.20" width="5.50" height="67.20" fill="#777" stroke="#000" stroke-width="1"/>
<line x1="361.60" y1="259.60" x2="361.60" y2="258.00" stroke="#000" stroke-width="1.2"/>
<line x1="360.00" y1="258.00" x2="363.20" y2="258.00" stroke="#000" stroke-width="1.3"/>
<rect x="358.35" y="259.60" width="6.50" height="96.80" fill="#d3d3d3"/>
<text x="361.60" y="258.60" font-size="10.5" font-weight="bold" text-anchor="middle" fill="#000">*</text>
<line x1="369.45" y1="265.00" x2="369.45" y2="260.30" stroke="#000" stroke-width="1.2"/>
<line x1="367.85" y1="260.30" x2="371.05" y2="260.30" stroke="#000" stroke-width="1.3"/>
<rect x="366.70" y="265.50" width="5.50" height="90.90" fill="#c4c4c4" stroke="#000" stroke-width="1"/>
<ellipse cx="369.45" cy="267.60" rx="1.5" ry="1.2" fill="#fff"/>
<ellipse cx="369.45" cy="270.80" rx="1.5" ry="1.2" fill="#fff"/>
<ellipse cx="369.45" cy="274.00" rx="1.5" ry="1.2" fill="#fff"/>
<ellipse cx="369.45" cy="277.20" rx="1.5" ry="1.2" fill="#fff"/>
<ellipse cx="369.45" cy="280.40" rx="1.5" ry="1.2" fill="#fff"/>
<ellipse cx="369.45" cy="283.60" rx="1.5" ry="1.2" fill="#fff"/>
<ellipse cx="369.45" cy="286.80" rx="1.5" ry="1.2" fill="#fff"/>
<ellipse cx="369.45" cy="290.00" rx="1.5" ry="1.2" fill="#fff"/>
<ellipse cx="369.45" cy="293.20" rx="1.5" ry="1.2" fill="#fff"/>
<ellipse cx="369.45" cy="296.40" rx="1.5" ry="1.2" fill="#fff"/>
<ellipse cx="369.45" cy="299.60" rx="1.5" ry="1.2" fill="#fff"/>
<ellipse cx="369.45" cy="302.80" rx="1.5" ry="1.2" fill="#fff"/>
<ellipse cx="369.45" cy="306.00" rx="1.5" ry="1.2" fill="#fff"/>
<ellipse cx="369.45" cy="309.20" rx="1.5" ry="1.2" fill="#fff"/>
<ellipse cx="369.45" cy="312.40" rx="1.5" ry="1.2" fill="#fff"/>
<ellipse cx="369.45" cy="315.60" rx="1.5" ry="1.2" fill="#fff"/>
<ellipse cx="369.45" cy="318.80" rx="1.5" ry="1.2" fill="#fff"/>
<ellipse cx="369.45" cy="322.00" rx="1.5" ry="1.2" fill="#fff"/>
<ellipse cx="369.45" cy="325.20" rx="1.5" ry="1.2" fill="#fff"/>
<ellipse cx="369.45" cy="328.40" rx="1.5" ry="1.2" fill="#fff"/>
<ellipse cx="369.45" cy="331.60" rx="1.5" ry="1.2" fill="#fff"/>
<ellipse cx="369.45" cy="334.80" rx="1.5" ry="1.2" fill="#fff"/>
<ellipse cx="369.45" cy="338.00" rx="1.5" ry="1.2" fill="#fff"/>
<ellipse cx="369.45" cy="341.20" rx="1.5" ry="1.2" fill="#fff"/>
<ellipse cx="369.45" cy="344.40" rx="1.5" ry="1.2" fill="#fff"/>
<ellipse cx="369.45" cy="347.60" rx="1.5" ry="1.2" fill="#fff"/>
<ellipse cx="369.45" cy="350.80" rx="1.5" ry="1.2" fill="#fff"/>
<ellipse cx="369.45" cy="354.00" rx="1.5" ry="1.2" fill="#fff"/>
<text x="369.45" y="261.60" font-size="10.5" font-weight="bold" text-anchor="middle" fill="#000">*</text>
<line x1="377.30" y1="270.00" x2="377.30" y2="265.40" stroke="#000" stroke-width="1.2"/>
<line x1="375.70" y1="265.40" x2="378.90" y2="265.40" stroke="#000" stroke-width="1.3"/>
<rect x="374.55" y="270.50" width="5.50" height="85.90" fill="#fff" stroke="#000" stroke-width="1"/>
<rect x="376.70" y="270.00" width="1.2" height="86.40" fill="#222"/>
<rect x="374.05" y="273.15" width="6.50" height="0.9" fill="#222"/>
<rect x="374.05" y="276.75" width="6.50" height="0.9" fill="#222"/>
<rect x="374.05" y="280.35" width="6.50" height="0.9" fill="#222"/>
<rect x="374.05" y="283.95" width="6.50" height="0.9" fill="#222"/>
<rect x="374.05" y="287.55" width="6.50" height="0.9" fill="#222"/>
<rect x="374.05" y="291.15" width="6.50" height="0.9" fill="#222"/>
<rect x="374.05" y="294.75" width="6.50" height="0.9" fill="#222"/>
<rect x="374.05" y="298.35" width="6.50" height="0.9" fill="#222"/>
<rect x="374.05" y="301.95" width="6.50" height="0.9" fill="#222"/>
<rect x="374.05" y="305.55" width="6.50" height="0.9" fill="#222"/>
<rect x="374.05" y="309.15" width="6.50" height="0.9" fill="#222"/>
<rect x="374.05" y="312.75" width="6.50" height="0.9" fill="#222"/>
<rect x="374.05" y="316.35" width="6.50" height="0.9" fill="#222"/>
<rect x="374.05" y="319.95" width="6.50" height="0.9" fill="#222"/>
<rect x="374.05" y="323.55" width="6.50" height="0.9" fill="#222"/>
<rect x="374.05" y="327.15" width="6.50" height="0.9" fill="#222"/>
<rect x="374.05" y="330.75" width="6.50" height="0.9" fill="#222"/>
<rect x="374.05" y="334.35" width="6.50" height="0.9" fill="#222"/>
<rect x="374.05" y="337.95" width="6.50" height="0.9" fill="#222"/>
<rect x="374.05" y="341.55" width="6.50" height="0.9" fill="#222"/>
<rect x="374.05" y="345.15" width="6.50" height="0.9" fill="#222"/>
<rect x="374.05" y="348.75" width="6.50" height="0.9" fill="#222"/>
<rect x="374.05" y="352.35" width="6.50" height="0.9" fill="#222"/>
<text x="377.30" y="266.70" font-size="10.5" font-weight="bold" text-anchor="middle" fill="#000">*</text>
<line x1="389.80" y1="287.30" x2="389.80" y2="281.40" stroke="#000" stroke-width="1.2"/>
<line x1="388.20" y1="281.40" x2="391.40" y2="281.40" stroke="#000" stroke-width="1.3"/>
<rect x="386.55" y="287.30" width="6.50" height="69.10" fill="#000"/>
<line x1="397.65" y1="286.30" x2="397.65" y2="281.90" stroke="#000" stroke-width="1.2"/>
<line x1="396.05" y1="281.90" x2="399.25" y2="281.90" stroke="#000" stroke-width="1.3"/>
<rect x="394.40" y="286.30" width="6.50" height="70.10" fill="#999"/>
<line x1="405.50" y1="285.70" x2="405.50" y2="282.20" stroke="#000" stroke-width="1.2"/>
<line x1="403.90" y1="282.20" x2="407.10" y2="282.20" stroke="#000" stroke-width="1.3"/>
<rect x="402.75" y="286.20" width="5.50" height="70.20" fill="#777" stroke="#000" stroke-width="1"/>
<line x1="413.35" y1="254.60" x2="413.35" y2="251.20" stroke="#000" stroke-width="1.2"/>
<line x1="411.75" y1="251.20" x2="414.95" y2="251.20" stroke="#000" stroke-width="1.3"/>
<rect x="410.10" y="254.60" width="6.50" height="101.80" fill="#d3d3d3"/>
<text x="413.35" y="252.30" font-size="10.5" font-weight="bold" text-anchor="middle" fill="#000">*</text>
<line x1="421.20" y1="264.10" x2="421.20" y2="259.60" stroke="#000" stroke-width="1.2"/>
<line x1="419.60" y1="259.60" x2="422.80" y2="259.60" stroke="#000" stroke-width="1.3"/>
<rect x="418.45" y="264.60" width="5.50" height="91.80" fill="#c4c4c4" stroke="#000" stroke-width="1"/>
<ellipse cx="421.20" cy="266.70" rx="1.5" ry="1.2" fill="#fff"/>
<ellipse cx="421.20" cy="269.90" rx="1.5" ry="1.2" fill="#fff"/>
<ellipse cx="421.20" cy="273.10" rx="1.5" ry="1.2" fill="#fff"/>
<ellipse cx="421.20" cy="276.30" rx="1.5" ry="1.2" fill="#fff"/>
<ellipse cx="421.20" cy="279.50" rx="1.5" ry="1.2" fill="#fff"/>
<ellipse cx="421.20" cy="282.70" rx="1.5" ry="1.2" fill="#fff"/>
<ellipse cx="421.20" cy="285.90" rx="1.5" ry="1.2" fill="#fff"/>
<ellipse cx="421.20" cy="289.10" rx="1.5" ry="1.2" fill="#fff"/>
<ellipse cx="421.20" cy="292.30" rx="1.5" ry="1.2" fill="#fff"/>
<ellipse cx="421.20" cy="295.50" rx="1.5" ry="1.2" fill="#fff"/>
<ellipse cx="421.20" cy="298.70" rx="1.5" ry="1.2" fill="#fff"/>
<ellipse cx="421.20" cy="301.90" rx="1.5" ry="1.2" fill="#fff"/>
<ellipse cx="421.20" cy="305.10" rx="1.5" ry="1.2" fill="#fff"/>
<ellipse cx="421.20" cy="308.30" rx="1.5" ry="1.2" fill="#fff"/>
<ellipse cx="421.20" cy="311.50" rx="1.5" ry="1.2" fill="#fff"/>
<ellipse cx="421.20" cy="314.70" rx="1.5" ry="1.2" fill="#fff"/>
<ellipse cx="421.20" cy="317.90" rx="1.5" ry="1.2" fill="#fff"/>
<ellipse cx="421.20" cy="321.10" rx="1.5" ry="1.2" fill="#fff"/>
<ellipse cx="421.20" cy="324.30" rx="1.5" ry="1.2" fill="#fff"/>
<ellipse cx="421.20" cy="327.50" rx="1.5" ry="1.2" fill="#fff"/>
<ellipse cx="421.20" cy="330.70" rx="1.5" ry="1.2" fill="#fff"/>
<ellipse cx="421.20" cy="333.90" rx="1.5" ry="1.2" fill="#fff"/>
<ellipse cx="421.20" cy="337.10" rx="1.5" ry="1.2" fill="#fff"/>
<ellipse cx="421.20" cy="340.30" rx="1.5" ry="1.2" fill="#fff"/>
<ellipse cx="421.20" cy="343.50" rx="1.5" ry="1.2" fill="#fff"/>
<ellipse cx="421.20" cy="346.70" rx="1.5" ry="1.2" fill="#fff"/>
<ellipse cx="421.20" cy="349.90" rx="1.5" ry="1.2" fill="#fff"/>
<ellipse cx="421.20" cy="353.10" rx="1.5" ry="1.2" fill="#fff"/>
<text x="421.20" y="260.90" font-size="10.5" font-weight="bold" text-anchor="middle" fill="#000">*</text>
<line x1="429.05" y1="265.00" x2="429.05" y2="261.50" stroke="#000" stroke-width="1.2"/>
<line x1="427.45" y1="261.50" x2="430.65" y2="261.50" stroke="#000" stroke-width="1.3"/>
<rect x="426.30" y="265.50" width="5.50" height="90.90" fill="#fff" stroke="#000" stroke-width="1"/>
<rect x="428.45" y="265.00" width="1.2" height="91.40" fill="#222"/>
<rect x="425.80" y="268.15" width="6.50" height="0.9" fill="#222"/>
<rect x="425.80" y="271.75" width="6.50" height="0.9" fill="#222"/>
<rect x="425.80" y="275.35" width="6.50" height="0.9" fill="#222"/>
<rect x="425.80" y="278.95" width="6.50" height="0.9" fill="#222"/>
<rect x="425.80" y="282.55" width="6.50" height="0.9" fill="#222"/>
<rect x="425.80" y="286.15" width="6.50" height="0.9" fill="#222"/>
<rect x="425.80" y="289.75" width="6.50" height="0.9" fill="#222"/>
<rect x="425.80" y="293.35" width="6.50" height="0.9" fill="#222"/>
<rect x="425.80" y="296.95" width="6.50" height="0.9" fill="#222"/>
<rect x="425.80" y="300.55" width="6.50" height="0.9" fill="#222"/>
<rect x="425.80" y="304.15" width="6.50" height="0.9" fill="#222"/>
<rect x="425.80" y="307.75" width="6.50" height="0.9" fill="#222"/>
<rect x="425.80" y="311.35" width="6.50" height="0.9" fill="#222"/>
<rect x="425.80" y="314.95" width="6.50" height="0.9" fill="#222"/>
<rect x="425.80" y="318.55" width="6.50" height="0.9" fill="#222"/>
<rect x="425.80" y="322.15" width="6.50" height="0.9" fill="#222"/>
<rect x="425.80" y="325.75" width="6.50" height="0.9" fill="#222"/>
<rect x="425.80" y="329.35" width="6.50" height="0.9" fill="#222"/>
<rect x="425.80" y="332.95" width="6.50" height="0.9" fill="#222"/>
<rect x="425.80" y="336.55" width="6.50" height="0.9" fill="#222"/>
<rect x="425.80" y="340.15" width="6.50" height="0.9" fill="#222"/>
<rect x="425.80" y="343.75" width="6.50" height="0.9" fill="#222"/>
<rect x="425.80" y="347.35" width="6.50" height="0.9" fill="#222"/>
<rect x="425.80" y="350.95" width="6.50" height="0.9" fill="#222"/>
<text x="429.05" y="262.80" font-size="10.5" font-weight="bold" text-anchor="middle" fill="#000">*</text>
<rect x="442.70" y="237.60" width="15.00" height="7.80" fill="#000"/>
<text x="464.10" y="244.60" font-size="10" font-weight="normal" text-anchor="start" fill="#000">0 &#956;mol/l</text>
<rect x="442.70" y="254.20" width="15.00" height="7.80" fill="#999"/>
<text x="464.10" y="261.20" font-size="10" font-weight="normal" text-anchor="start" fill="#000">50 &#956;mol/l</text>
<rect x="443.20" y="271.40" width="14.00" height="6.80" fill="#777" stroke="#000" stroke-width="1"/>
<text x="464.10" y="277.90" font-size="10" font-weight="normal" text-anchor="start" fill="#000">100 &#956;mol/l</text>
<rect x="442.70" y="287.60" width="15.00" height="7.80" fill="#d3d3d3"/>
<text x="464.10" y="294.60" font-size="10" font-weight="normal" text-anchor="start" fill="#000">250 &#956;mol/l</text>
<rect x="443.20" y="304.70" width="14.00" height="6.80" fill="#fff" stroke="#000" stroke-width="1"/>
<rect x="444.60" y="307.80" width="1.2" height="1.2" fill="#888"/>
<rect x="446.80" y="307.80" width="1.2" height="1.2" fill="#888"/>
<rect x="449.00" y="307.80" width="1.2" height="1.2" fill="#888"/>
<rect x="451.20" y="307.80" width="1.2" height="1.2" fill="#888"/>
<rect x="453.40" y="307.80" width="1.2" height="1.2" fill="#888"/>
<rect x="455.60" y="307.80" width="1.2" height="1.2" fill="#888"/>
<text x="464.10" y="311.20" font-size="10" font-weight="normal" text-anchor="start" fill="#000">500 &#956;mol/l</text>
<rect x="443.20" y="321.40" width="14.00" height="6.80" fill="#fff" stroke="#000" stroke-width="1"/>
<line x1="447.90" y1="321.40" x2="447.90" y2="328.20" stroke="#000" stroke-width="1"/>
<line x1="452.60" y1="321.40" x2="452.60" y2="328.20" stroke="#000" stroke-width="1"/>
<line x1="443.20" y1="324.80" x2="457.20" y2="324.80" stroke="#000" stroke-width="1"/>
<text x="464.10" y="327.90" font-size="10" font-weight="normal" text-anchor="start" fill="#000">1000 &#956;mol/l</text>
<line x1="578.40" y1="244.40" x2="578.40" y2="369.10" stroke="#000" stroke-width="1.3"/>
<line x1="575.10" y1="245.00" x2="578.40" y2="245.00" stroke="#000" stroke-width="1.3"/>
<text x="573.60" y="247.90" font-size="9.6" font-weight="bold" text-anchor="end" fill="#000">1.5</text>
<line x1="575.10" y1="286.10" x2="578.40" y2="286.10" stroke="#000" stroke-width="1.3"/>
<text x="573.60" y="289.00" font-size="9.6" font-weight="bold" text-anchor="end" fill="#000">1.0</text>
<line x1="575.10" y1="327.30" x2="578.40" y2="327.30" stroke="#000" stroke-width="1.3"/>
<text x="573.60" y="330.20" font-size="9.6" font-weight="bold" text-anchor="end" fill="#000">0.5</text>
<line x1="575.10" y1="368.60" x2="578.40" y2="368.60" stroke="#000" stroke-width="1.3"/>
<text x="573.60" y="371.50" font-size="9.6" font-weight="bold" text-anchor="end" fill="#000">0.0</text>
<line x1="577.80" y1="368.50" x2="685.00" y2="368.50" stroke="#000" stroke-width="1.3"/>
<line x1="608.50" y1="368.60" x2="608.50" y2="372.00" stroke="#000" stroke-width="1.3"/>
<line x1="654.00" y1="368.60" x2="654.00" y2="372.00" stroke="#000" stroke-width="1.3"/>
<line x1="608.50" y1="285.80" x2="608.50" y2="274.90" stroke="#000" stroke-width="1.3"/>
<line x1="601.10" y1="274.90" x2="616.10" y2="274.90" stroke="#000" stroke-width="1.5"/>
<rect x="592.60" y="285.80" width="31.80" height="82.80" fill="#000"/>
<line x1="654.00" y1="333.90" x2="654.00" y2="332.10" stroke="#000" stroke-width="1.3"/>
<line x1="646.70" y1="332.10" x2="661.80" y2="332.10" stroke="#000" stroke-width="1.5"/>
<rect x="637.80" y="333.90" width="32.20" height="34.70" fill="#000"/>
<text x="654.00" y="332.90" font-size="11" font-weight="bold" text-anchor="middle" fill="#000">*</text>
<text x="607.00" y="381.40" font-size="9" font-weight="bold" text-anchor="middle" fill="#000">blank</text>
<text x="654.10" y="381.40" font-size="9" font-weight="bold" text-anchor="middle" fill="#000">serotonin</text>
<text x="555.30" y="306.40" font-size="9" font-weight="bold" text-anchor="middle" fill="#000" transform="rotate(-90 555.30 306.40)">Relative miR-361-3p expression</text>
</svg>
</body></html>
